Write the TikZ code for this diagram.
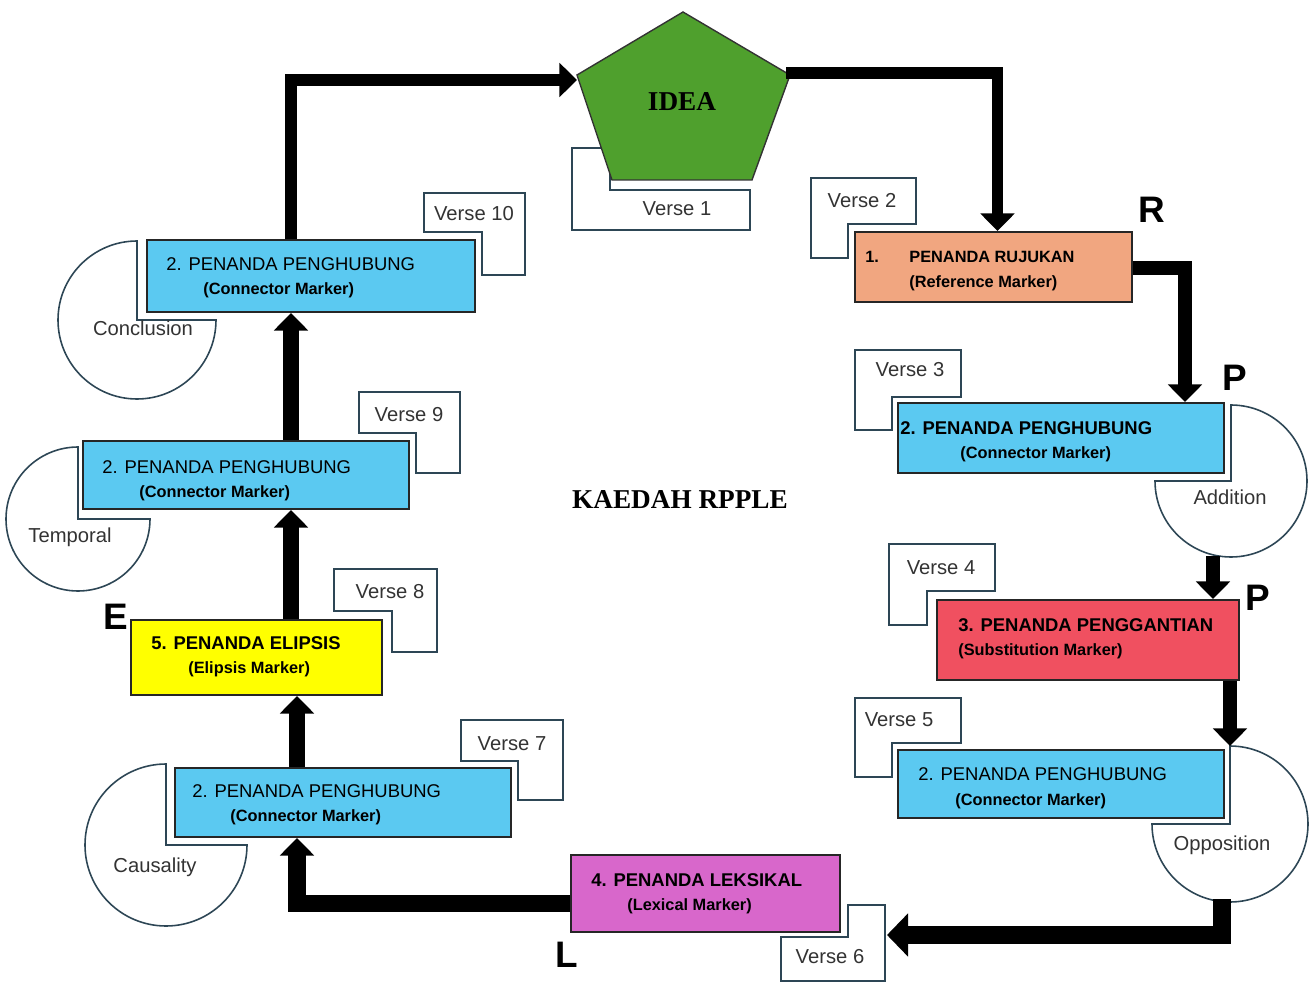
\documentclass[tikz,border=0pt]{standalone}
\usepackage{fontspec}
\setmainfont{Liberation Sans}
\newfontfamily\timesfont{Liberation Serif}
\usetikzlibrary{arrows.meta,fit,calc}

\definecolor{markblue}{RGB}{91,201,241}
\definecolor{markorange}{RGB}{241,166,128}
\definecolor{markred}{RGB}{240,80,96}
\definecolor{markpink}{RGB}{216,103,203}
\definecolor{markyellow}{RGB}{255,255,0}
\definecolor{ideagreen}{RGB}{79,160,45}
\definecolor{slate}{RGB}{45,70,85}

\tikzset{
  cbox/.style={draw=black!85, line width=1.1pt, inner sep=0pt},
  vbox/.style={draw=slate, line width=1.1pt, fill=white},
  partcirc/.style={draw=slate, line width=0.9pt, fill=white},
  ttl/.style={anchor=base west, inner sep=0pt, font=\fontsize{10.5}{12}\selectfont},
  bttl/.style={ttl, font=\bfseries\fontsize{10.5}{12}\selectfont},
  subttl/.style={anchor=base west, inner sep=0pt, font=\bfseries\fontsize{9.3}{11}\selectfont},
  vtxt/.style={inner sep=0pt, font=\fontsize{11.5}{13}\selectfont, text=black!80},
  marklet/.style={inner sep=0pt, font=\bfseries\fontsize{21}{24}\selectfont},
  serifttl/.style={font=\timesfont\bfseries\fontsize{15.5}{18}\selectfont},
  flow/.style={line width=8pt, -{Triangle[length=10pt,width=19pt]}},
}

\begin{document}
\begin{tikzpicture}[x=0.02cm,y=-0.02cm]
\useasboundingbox (0,0) rectangle (1309,983);

% verse boxes
\draw[vbox] (572,148) -- (610,148) -- (610,190) -- (750,190) -- (750,230) -- (572,230) -- cycle;
\draw[vbox] (811,178) -- (916,178) -- (916,224) -- (848,224) -- (848,258) -- (811,258) -- cycle;
\draw[vbox] (855,350) -- (961,350) -- (961,397) -- (892,397) -- (892,430) -- (855,430) -- cycle;
\draw[vbox] (889,544) -- (995,544) -- (995,591) -- (927,591) -- (927,625) -- (889,625) -- cycle;
\draw[vbox] (855,698) -- (961,698) -- (961,743) -- (892,743) -- (892,777) -- (855,777) -- cycle;
\draw[vbox] (781,937) -- (848,937) -- (848,905) -- (885,905) -- (885,981) -- (781,981) -- cycle;
\draw[vbox] (461,720) -- (563,720) -- (563,800) -- (518,800) -- (518,761) -- (461,761) -- cycle;
\draw[vbox] (334,569) -- (437,569) -- (437,652) -- (392,652) -- (392,611) -- (334,611) -- cycle;
\draw[vbox] (359,392) -- (460,392) -- (460,473) -- (416,473) -- (416,433) -- (359,433) -- cycle;
\draw[vbox] (424,193) -- (525,193) -- (525,275) -- (482,275) -- (482,232) -- (424,232) -- cycle;

\node[vtxt] (v1) at (677,209) {Verse 1};
\node[vtxt] (v2) at (862,201) {Verse 2};
\node[vtxt] (v3) at (910,370) {Verse 3};
\node[vtxt] (v4) at (941,568) {Verse 4};
\node[vtxt] (v5) at (899,720) {Verse 5};
\node[vtxt] (v6) at (830,957) {Verse 6};
\node[vtxt] (v7) at (512,744) {Verse 7};
\node[vtxt] (v8) at (390,592) {Verse 8};
\node[vtxt] (v9) at (409,415) {Verse 9};
\node[vtxt] (v10) at (474,214) {Verse 10};

% partial circles
\draw[partcirc] (137,320) -- ++(0:79) arc[start angle=0, end angle=270, radius=79] -- cycle;
\draw[partcirc] (78,519) -- ++(0:72) arc[start angle=0, end angle=270, radius=72] -- cycle;
\draw[partcirc] (166,845) -- ++(0:81) arc[start angle=0, end angle=270, radius=81] -- cycle;
\draw[partcirc] (1231,481) -- ++(270:76) arc[start angle=270, end angle=540, radius=76] -- cycle;
\draw[partcirc] (1230,824) -- ++(270:78) arc[start angle=270, end angle=540, radius=78] -- cycle;

\node[vtxt] (conc) at (143,328) {Conclusion};
\node[vtxt] (temp) at (70,537) {Temporal};
\node[vtxt] (caus) at (155,867) {Causality};
\node[vtxt] (addi) at (1230,497) {Addition};
\node[vtxt] (oppo) at (1222,845) {Opposition};

% idea pentagon
\coordinate (pt) at (683,12);
\coordinate (pl) at (577,75);
\coordinate (pbl) at (612,180);
\coordinate (pbr) at (752,180);
\coordinate (pr) at (790,75);
\draw[fill=ideagreen, draw=black!80, line width=0.8pt] (pt) -- (pl) -- (pbl) -- (pbr) -- (pr) -- cycle;
\node[serifttl] (idea) at (682,102) {IDEA};
\coordinate (ideain) at (577,80);
\coordinate (ideaout) at (786,73);

% marker boxes
\node[cbox, fill=markblue, fit={(147,240) (475,312)}] (b10) {};
\node[cbox, fill=markblue, fit={(83,441) (409,509)}] (b9) {};
\node[cbox, fill=markyellow, fit={(131,620) (382,695)}] (yl) {};
\node[cbox, fill=markblue, fit={(175,768) (511,837)}] (b7) {};
\node[cbox, fill=markpink, fit={(571,855) (840,932)}] (lx) {};
\node[cbox, fill=markblue, fit={(898,750) (1224,818)}] (b5) {};
\node[cbox, fill=markred, fit={(937,600) (1239,680)}] (rs) {};
\node[cbox, fill=markblue, fit={(898,403) (1224,473)}] (b3) {};
\node[cbox, fill=markorange, fit={(855,232) (1132,302)}] (rr) {};

\node[ttl] (b10t) at (166,271) {2. PENANDA PENGHUBUNG};
\node[subttl] (b10s) at (203,295) {(Connector Marker)};
\node[ttl] (b9t) at (102,473) {2. PENANDA PENGHUBUNG};
\node[subttl] (b9s) at (139,497) {(Connector Marker)};
\node[bttl] (ylt) at (151,649) {5. PENANDA ELIPSIS};
\node[subttl] (yls) at (188,673) {(Elipsis Marker)};
\node[ttl] (b7t) at (192,797) {2. PENANDA PENGHUBUNG};
\node[subttl] (b7s) at (230,821) {(Connector Marker)};
\node[bttl] (lxt) at (591,886) {4. PENANDA LEKSIKAL};
\node[subttl] (lxs) at (627,910) {(Lexical Marker)};
\node[ttl] (b5t) at (918,780) {2. PENANDA PENGHUBUNG};
\node[subttl] (b5s) at (955,805) {(Connector Marker)};
\node[bttl] (rst) at (958,631) {3. PENANDA PENGGANTIAN};
\node[subttl] (rss) at (958,655) {(Substitution Marker)};
\node[bttl] (b3t) at (900,434) {2. PENANDA PENGHUBUNG};
\node[subttl] (b3s) at (960,458) {(Connector Marker)};
\node[subttl] (rrn) at (865,263) {1.};
\node[subttl] (rrt) at (909,263) {PENANDA RUJUKAN};
\node[subttl] (rrs) at (909,288) {(Reference Marker)};

\node[serifttl] (title) at (680,500) {KAEDAH RPPLE};

\node[marklet] (lr) at (1152,210) {R};
\node[marklet] (lp1) at (1235,378) {P};
\node[marklet] (lp2) at (1258,598) {P};
\node[marklet] (le) at (116,617) {E};
\node[marklet] (ll) at (567,955) {L};

% flow arrows
\coordinate (colA) at (291,0);
\coordinate (colB) at (297,0);
\coordinate (colR) at (1185,0);
\coordinate (addb) at (1213,556);
\coordinate (oppt) at (1230,746);
\coordinate (oppb) at (1222,899);
\coordinate (v6in) at (887,935);

\draw[flow, line width=7pt] (b10.north -| colA) |- (ideain);
\draw[flow, line width=6.5pt] (ideaout) -| ($(rr.north)+(4,0)$);
\draw[flow, line width=7.5pt] ($(rr.east)+(0,1)$) -| (b3.north -| colR);
\draw[flow, line width=7.5pt] (addb) -- (addb |- rs.north);
\draw[flow, line width=7.5pt] (oppt |- rs.south) -- (oppt);
\draw[flow, line width=10pt, -{Triangle[length=12pt,width=24pt]}] (oppb) |- (v6in);
\draw[flow, line width=10pt] ($(lx.west)+(0,10)$) -| (b7.south -| colB);
\draw[flow, line width=9pt] (b7.north -| colB) -- (yl.south -| colB);
\draw[flow, line width=9pt] (yl.north -| colA) -- (b9.south -| colA);
\draw[flow, line width=9pt] (b9.north -| colA) -- (b10.south -| colA);
\end{tikzpicture}
\end{document}
